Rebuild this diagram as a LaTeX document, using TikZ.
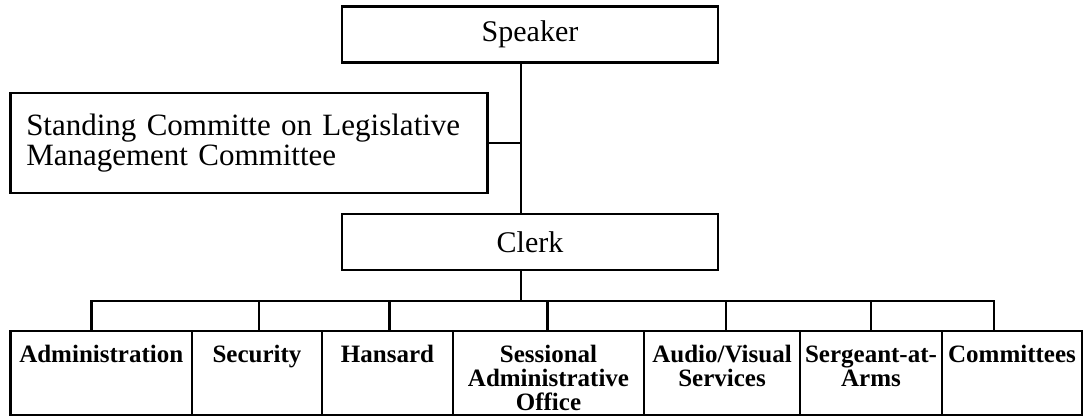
\documentclass[tikz,border=0pt]{standalone}
\usepackage{fontspec}
\setmainfont{Liberation Serif}
\usetikzlibrary{positioning}

% top of a unit box: text starts under a strut
\newcommand{\unittext}[2]{\parbox[c][42pt][t]{#1}{\centering\rule{0pt}{15.5pt}#2}}

\begin{document}
\begin{tikzpicture}[x=0.5pt, y=-0.5pt,
    head/.style={rectangle, draw=black, line width=1.4pt, minimum width=188pt,
    minimum height=28pt, inner sep=0pt, font=\fontsize{15}{15}\selectfont},
    unit/.style={rectangle, draw=black, line width=1.4pt, outer sep=0pt, inner sep=0pt,
    font=\fontsize{12.5}{12.2}\selectfont\bfseries},
    link/.style={draw=black, line width=1.4pt, line cap=rect}]
    \useasboundingbox (0,0) rectangle (1085,417);

    \node (speaker) [head] at (530,34.5) {Speaker};

    \node (standing) [rectangle, draw=black, line width=1.4pt, minimum height=50pt,
    text width=222.75pt, inner xsep=8pt, align=left, font=\fontsize{15.5}{15}\selectfont]
    at (249,143)
    {
        Standing Committe on Legislative \\ Management Committee
    };

    \node (clerk) [head] at (530,242) {Clerk};

    \coordinate (bus) at (521,301);

    \node (admin) [unit, anchor=north west] at (10.5,331) {\unittext{90.75pt}{Administration}};
    \node (security) [unit, right=0pt of admin] {\unittext{65pt}{Security}};
    \node (hansard) [unit, right=0pt of security] {\unittext{65.5pt}{Hansard}};
    \node (sessional) [unit, right=0pt of hansard] {\unittext{95.5pt}{Sessional\\Administrative\\Office}};
    \node (audio) [unit, right=0pt of sessional] {\unittext{78pt}{Audio/Visual\\Services}};
    \node (sergeant) [unit, right=0pt of audio] {\unittext{71pt}{Sergeant-at-\\Arms}};
    \node (committees) [unit, right=0pt of sergeant] {\unittext{70pt}{Committees}};

    \draw [link] (speaker.south -| bus) -- (clerk.north -| bus);
    \draw [link] (standing.east) -- (standing.east -| bus);
    \draw [link] (clerk.south -| bus) -- (bus);
    \draw [link] ([xshift=-5pt]admin.north |- bus) -- ([xshift=-9pt]committees.north |- bus);
    \foreach \u/\dx in {admin/-5pt, security/1pt, hansard/1pt, sessional/-0.5pt,
        audio/2pt, sergeant/0pt, committees/-9pt}
        \draw [link] ([xshift=\dx]\u.north) -- ([xshift=\dx]\u.north |- bus);
\end{tikzpicture}
\end{document}
